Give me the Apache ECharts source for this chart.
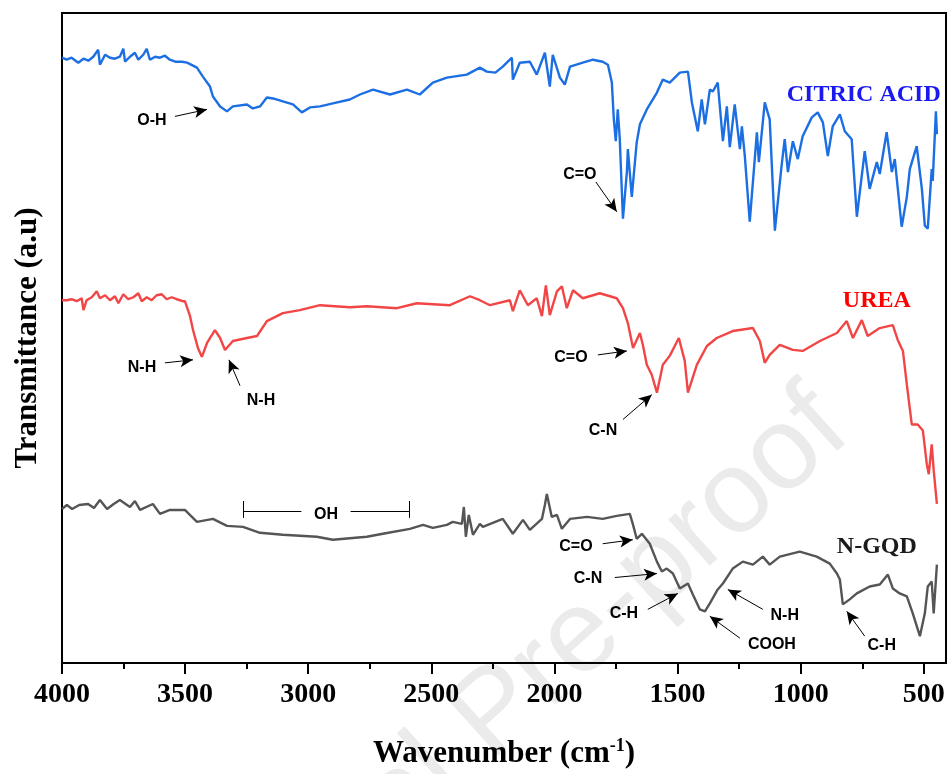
<!DOCTYPE html>
<html>
<head>
<meta charset="utf-8">
<script src="https://cdn.jsdelivr.net/npm/echarts@6/dist/echarts.min.js"></script>
<style>html,body{margin:0;padding:0;background:#fff}#c{width:950px;height:774px}</style>
</head>
<body>
<div id="c"></div>
<script>
// ---- data: [wavenumber (cm-1), transmittance (a.u., offset for stacking)] ----
const citricAcid = [[4000,60.9],[3981,60.7],[3961,60.9],[3934,60.4],[3913,60.8],[3893,60.6],[3873,61.0],[3853,61.7],[3846,60.2],[3825,61.2],[3805,60.9],[3785,60.8],[3765,61.0],[3751,61.8],[3744,60.5],[3724,61.0],[3704,61.4],[3690,60.7],[3670,61.2],[3656,61.8],[3643,60.7],[3622,61.0],[3602,60.9],[3582,61.1],[3562,60.7],[3540,60.5],[3513,60.5],[3492,60.4],[3452,59.9],[3428,59.0],[3399,58.0],[3387,57.0],[3358,56.0],[3330,55.5],[3306,56.0],[3249,56.2],[3225,55.8],[3196,56.0],[3168,56.9],[3143,56.8],[3103,56.5],[3062,56.2],[3026,55.4],[2993,55.9],[2952,56.0],[2900,56.3],[2831,56.7],[2790,57.2],[2737,57.7],[2668,57.2],[2599,57.7],[2547,57.2],[2494,58.4],[2437,58.9],[2356,59.2],[2303,59.9],[2275,59.5],[2240,59.4],[2210,60.0],[2173,60.9],[2169,58.7],[2141,60.4],[2100,60.5],[2072,59.2],[2039,61.4],[2019,58.0],[2007,61.2],[1978,58.9],[1958,58.2],[1937,60.0],[1885,60.4],[1844,60.7],[1804,60.5],[1783,60.2],[1767,58.4],[1759,54.7],[1751,52.5],[1743,55.7],[1735,52.8],[1722,44.7],[1706,49.4],[1702,51.7],[1686,46.9],[1666,52.4],[1653,54.2],[1625,55.7],[1584,57.4],[1560,58.7],[1532,58.4],[1491,59.4],[1458,59.5],[1442,56.4],[1418,53.5],[1402,56.7],[1389,54.2],[1369,57.7],[1357,57.5],[1337,58.4],[1316,52.5],[1300,56.0],[1288,51.9],[1268,56.2],[1247,51.7],[1239,54.0],[1227,51.0],[1207,44.4],[1178,53.4],[1170,50.4],[1146,56.4],[1126,54.7],[1105,43.5],[1077,50.2],[1065,52.7],[1052,49.4],[1032,52.5],[1012,50.7],[992,53.0],[955,54.9],[931,55.4],[910,54.4],[890,51.0],[870,54.0],[841,55.2],[821,53.5],[793,52.7],[772,44.9],[740,51.5],[720,47.7],[691,50.4],[679,49.2],[651,53.4],[630,49.4],[618,50.7],[590,43.9],[569,46.9],[557,49.7],[529,52.0],[508,47.7],[496,44.0],[484,43.7],[468,49.7],[464,48.5],[451,55.5],[447,53.2]];

const urea = [[4000,36.5],[3981,36.5],[3961,36.6],[3940,36.4],[3920,36.7],[3913,35.5],[3900,36.5],[3879,36.8],[3859,37.4],[3846,36.7],[3825,37.0],[3805,36.5],[3785,36.9],[3771,36.2],[3751,37.1],[3731,36.6],[3710,36.8],[3690,37.2],[3676,36.4],[3656,36.8],[3636,36.5],[3616,37.0],[3595,37.1],[3575,36.6],[3555,36.8],[3534,36.6],[3510,36.4],[3501,36.4],[3480,34.9],[3468,33.5],[3448,31.7],[3432,30.8],[3411,32.2],[3379,33.5],[3358,32.7],[3338,31.5],[3306,32.4],[3249,32.7],[3208,32.9],[3168,34.4],[3103,35.2],[3034,35.5],[2952,36.0],[2831,35.8],[2762,35.9],[2640,35.7],[2559,36.2],[2425,36.0],[2343,36.9],[2303,36.5],[2262,36.0],[2181,36.5],[2169,35.4],[2141,37.5],[2108,36.0],[2072,36.7],[2051,34.9],[2035,38.0],[2019,35.0],[1990,37.4],[1970,37.9],[1950,35.7],[1925,37.5],[1885,36.7],[1816,37.2],[1747,36.7],[1722,35.7],[1702,34.2],[1681,31.7],[1653,33.2],[1641,32.0],[1625,30.0],[1605,29.0],[1584,27.2],[1560,30.0],[1532,30.9],[1495,32.7],[1471,30.4],[1458,27.2],[1422,30.0],[1381,31.9],[1341,32.7],[1276,33.4],[1194,33.7],[1166,32.4],[1146,30.2],[1126,31.0],[1085,32.0],[1032,31.5],[992,31.4],[922,32.4],[853,33.2],[813,34.4],[788,32.7],[752,34.5],[728,32.9],[679,33.7],[626,34.0],[606,32.5],[585,31.4],[569,28.0],[549,24.0],[525,24.0],[504,23.4],[488,20.0],[480,19.0],[468,22.0],[460,19.4],[447,16.0]];

const nGQD = [[4000,15.5],[3980,15.9],[3959,15.5],[3930,15.9],[3894,16.0],[3870,15.6],[3846,16.4],[3817,15.5],[3790,16.0],[3765,16.4],[3724,15.7],[3704,16.3],[3683,15.4],[3631,16.0],[3602,15.0],[3562,15.4],[3501,15.4],[3452,14.2],[3387,14.5],[3330,13.8],[3265,13.7],[3196,13.1],[3103,12.9],[2965,12.7],[2900,12.4],[2762,12.7],[2697,13.0],[2587,13.5],[2534,13.9],[2494,13.6],[2437,13.9],[2413,14.2],[2376,14.0],[2368,15.7],[2360,12.7],[2348,14.9],[2331,12.9],[2303,14.0],[2291,13.7],[2210,14.5],[2169,13.0],[2128,14.4],[2100,13.4],[2051,14.5],[2039,15.9],[2031,17.0],[2011,14.7],[1990,14.9],[1970,13.5],[1937,14.5],[1868,14.7],[1804,14.5],[1747,14.8],[1694,15.0],[1682,14.0],[1666,12.5],[1645,13.0],[1613,12.0],[1584,10.2],[1564,9.2],[1544,9.5],[1519,9.0],[1491,7.5],[1458,8.0],[1438,6.9],[1410,5.4],[1389,5.2],[1369,6.0],[1337,7.4],[1316,8.0],[1276,9.5],[1235,10.2],[1194,9.9],[1154,10.7],[1126,9.9],[1085,10.7],[1004,11.2],[935,10.7],[882,10.0],[853,9.0],[841,8.4],[829,5.9],[801,6.4],[772,7.0],[720,7.7],[679,7.9],[646,8.9],[626,7.5],[598,7.0],[569,6.7],[545,5.0],[516,2.7],[496,5.0],[484,7.7],[468,8.2],[460,5.0],[447,9.9]];

const majorTicks = [4000,3500,3000,2500,2000,1500,1000,500];
const minorTicks = [3750,3250,2750,2250,1750,1250,750];

// sample names and where their names are written
const sampleNames = ['CITRIC ACID','UREA','N-GQD'];
const sampleNameAt = [[744,57.2],[691,36.4],[691,11.7]];

// band assignments: text, text position, arrow start, arrow end
const bandLabels = ['O-H','C=O','N-H','N-H','C=O','C-N','C=O','C-N','C-H','COOH','N-H','C-H'];
const bandLabelAt = [[3635,54.6],[1897,49.1],[3675,29.7],[3192,26.4],[1933,30.7],[1803,23.4],[1913,11.7],[1864,8.5],[1718,5.0],[1117,1.9],[1065,4.8],[671,1.8]];
const arrowFrom = [[3541,55.0],[1832,48.4],[3582,30.2],[3277,27.9],[1824,31.0],[1722,24.5],[1804,12.0],[1755,8.6],[1621,5.4],[1247,2.5],[1154,5.4],[740,2.7]];
const arrowTo = [[3411,55.7],[1747,45.4],[3468,30.5],[3322,30.5],[1706,31.4],[1605,27.0],[1682,12.4],[1584,9.0],[1499,7.0],[1369,4.7],[1296,7.4],[813,5.2]];

// the OH range bracket on N-GQD
const ohRange = [3265,2591];
const ohLevel = 15.3;
const ohText = 'OH';
const ohTextAt = [2928,14.9];

const X_MIN = 410, X_MAX = 4000;

const chart = echarts.init(document.getElementById('c'), null, {renderer:'canvas'});

const arrowLines = bandLabels.map((t,i)=>[
  {coord: arrowFrom[i], symbol:'none'},
  {coord: arrowTo[i], symbol:'arrow'}
]);
const gap = 140;
const ohMid = ohTextAt[0];
const bracketLines = [
  [{coord:[ohRange[0],ohLevel]},{coord:[ohMid+gap/2+30,ohLevel]}],
  [{coord:[ohMid-gap/2-30,ohLevel]},{coord:[ohRange[1],ohLevel]}],
  [{coord:[ohRange[0],ohLevel+1.0]},{coord:[ohRange[0],ohLevel-0.7]}],
  [{coord:[ohRange[1],ohLevel+1.0]},{coord:[ohRange[1],ohLevel-0.7]}]
];

const bandFont = {fontFamily:'Liberation Sans', fontWeight:'bold', fontSize:16, color:'#000'};
const nameColors = ['#1a1af0','#ff0000','#1a1a1a'];

const markPoints = bandLabels.map((t,i)=>({
  coord: bandLabelAt[i], symbol:'circle', symbolSize:0,
  label:Object.assign({show:true, position:'inside', formatter:t}, bandFont)
})).concat([{
  coord: ohTextAt, symbol:'circle', symbolSize:0,
  label:Object.assign({show:true, position:'inside', formatter:ohText}, bandFont)
}]).concat(sampleNames.map((n,i)=>({
  coord: sampleNameAt[i], symbol:'circle', symbolSize:0,
  label:{show:true, position:'inside', formatter:n, fontFamily:'Liberation Serif', fontWeight:'bold', fontSize:24, color:nameColors[i]}
})));

const option = {
  animation:false,
  backgroundColor:'#fff',
  grid:{left:62, right:4, top:13, bottom:107, show:true, borderColor:'#000', borderWidth:2, backgroundColor:'transparent'},
  graphic:[{
    type:'text', z:-10, silent:true,
    x:832, y:412, rotation:42*Math.PI/180,
    style:{text:'Journal Pre-proof', fontFamily:'Liberation Sans', fontSize:117, fill:'#ebebeb', textAlign:'right', textVerticalAlign:'middle'}
  }],
  xAxis:[{
    type:'value', min:X_MIN, max:X_MAX, inverse:true,
    name:'Wavenumber (cm{sup|-1})', nameLocation:'middle', nameGap:74,
    nameTextStyle:{fontFamily:'Liberation Serif', fontWeight:'bold', fontSize:31, color:'#000',
      rich:{sup:{fontFamily:'Liberation Serif', fontWeight:'bold', fontSize:18, verticalAlign:'top', padding:[0,0,15,0], color:'#000'}}},
    axisLine:{show:true, onZero:false, lineStyle:{color:'#000', width:2}},
    axisTick:{show:true, inside:false, length:11, lineStyle:{color:'#000', width:2}, customValues:majorTicks},
    axisLabel:{show:true, margin:18, fontFamily:'Liberation Serif', fontWeight:'bold', fontSize:28, color:'#000', customValues:majorTicks,
      formatter:(v)=>String(v)},
    splitLine:{show:false}
  },{
    type:'value', min:X_MIN, max:X_MAX, inverse:true, position:'bottom',
    axisLine:{show:false},
    axisTick:{show:true, inside:false, length:6, lineStyle:{color:'#000', width:2}, customValues:minorTicks},
    axisLabel:{show:false},
    splitLine:{show:false}
  }],
  yAxis:{
    type:'value', min:0, max:65.4,
    name:'Transmittance (a.u)', nameLocation:'middle', nameGap:19,
    nameTextStyle:{fontFamily:'Liberation Serif', fontWeight:'bold', fontSize:31, color:'#000'},
    axisLine:{show:true, lineStyle:{color:'#000', width:2}},
    axisTick:{show:false}, axisLabel:{show:false}, splitLine:{show:false}
  },
  series:[
    {name:'CITRIC ACID', type:'line', data:citricAcid, showSymbol:false, symbol:'none',
     lineStyle:{color:'#1c6fe3', width:2.4}, z:3,
     markLine:{silent:true, symbol:['none','arrow'], symbolSize:[9,13], precision:4,
       label:{show:false}, lineStyle:{color:'#000', width:1, type:'solid'},
       emphasis:{disabled:true}, data: arrowLines.concat(bracketLines.map(s=>[Object.assign({symbol:'none'},s[0]),Object.assign({symbol:'none'},s[1])]))},
     markPoint:{silent:true, data:markPoints}
    },
    {name:'UREA', type:'line', data:urea, showSymbol:false, symbol:'none', lineStyle:{color:'#f24646', width:2.4}, z:3},
    {name:'N-GQD', type:'line', data:nGQD, showSymbol:false, symbol:'none', lineStyle:{color:'#555555', width:2.4}, z:3}
  ]
};
chart.setOption(option);
</script>
</body>
</html>
